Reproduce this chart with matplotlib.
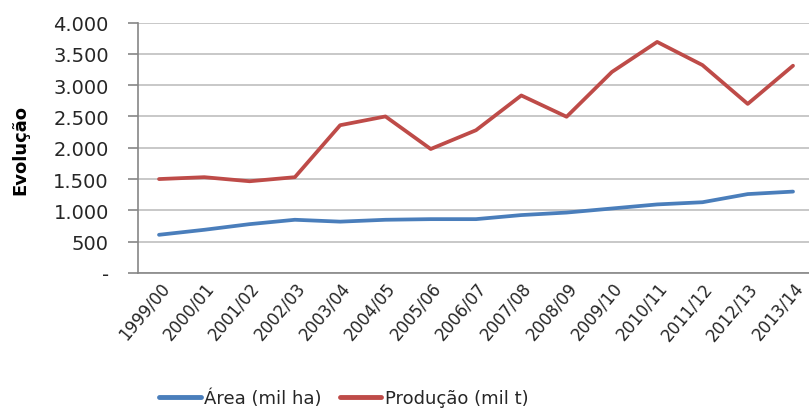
import numpy as np
import matplotlib
matplotlib.use("Agg")
from matplotlib import pyplot as plt
from matplotlib.ticker import FuncFormatter

safras = ["1999/00", "2000/01", "2001/02", "2002/03", "2003/04", "2004/05",
          "2005/06", "2006/07", "2007/08", "2008/09", "2009/10", "2010/11",
          "2011/12", "2012/13", "2013/14"]
area = [610, 690, 780, 850, 820, 850, 860, 860, 925, 965, 1030, 1095, 1130, 1260, 1300]
producao = [1500, 1530, 1465, 1530, 2360, 2500, 1980, 2280, 2835, 2495, 3210, 3690, 3320, 2700, 3310]

azul = "#4A7EBB"
vermelho = "#BE4B48"
texto = "#262626"

plt.rcParams['font.family'] = ['DejaVu Sans']

fig = plt.figure(figsize=(8.09, 4.14), dpi=100)
ax = fig.add_axes([138 / 809, 140 / 414, 671 / 809, 250.5 / 414])

x = np.arange(len(safras))
ax.plot(x, area, color=azul, lw=2.7, solid_joinstyle="round",
        solid_capstyle="round", label="Área (mil ha)")
ax.plot(x, producao, color=vermelho, lw=2.7, solid_joinstyle="round",
        solid_capstyle="round", label="Produção (mil t)")

ax.set_ylim(0, 4000)
ax.set_xlim(-0.464, 14.353)
ax.set_yticks(np.arange(0, 4001, 500))


def fmt(v, pos):
    if v == 0:
        return "-"
    return "{:,.0f}".format(v).replace(",", ".")


ax.yaxis.set_major_formatter(FuncFormatter(fmt))
ax.grid(axis="y", color="#BFBFBF", lw=1.2)
ax.set_axisbelow(True)
for s in ["top", "right"]:
    ax.spines[s].set_visible(False)
ax.spines["left"].set_color("#868686")
ax.spines["bottom"].set_color("#868686")
ax.spines["left"].set_linewidth(1.2)
ax.spines["bottom"].set_linewidth(1.2)
ax.tick_params(axis="y", length=7, width=1.2, color="#868686",
               labelsize=14, labelcolor=texto, pad=14)
ax.tick_params(axis="x", length=0, labelsize=12, labelcolor=texto, pad=4)
ax.set_xticks(x)
ax.set_xticklabels(safras, rotation=50, ha="right", rotation_mode="anchor")

fig.text(0.025, (414 - 150) / 414, "Evolução", rotation=90, fontsize=13,
         fontweight="bold", color="black", ha="center", va="center")

leg = fig.legend(loc="center", bbox_to_anchor=(0.425, (414 - 399) / 414), ncol=2,
                 frameon=False, fontsize=13, handlelength=2.3, handletextpad=0.2,
                 columnspacing=1.0, labelcolor=texto)
for h in leg.get_lines():
    h.set_linewidth(3.5)

fig.savefig("out.png", dpi=100)
